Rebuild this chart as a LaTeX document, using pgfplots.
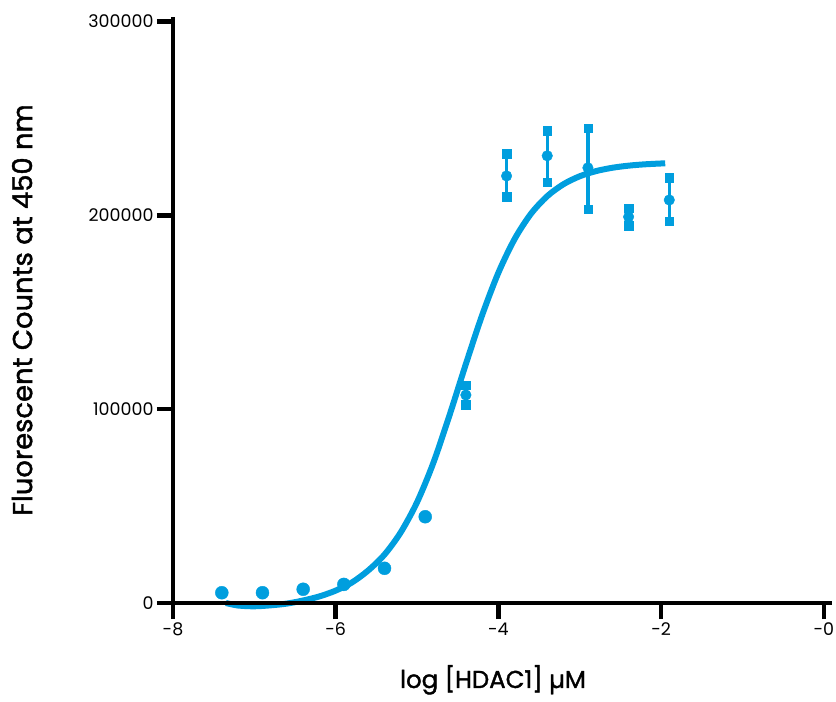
\documentclass[border=0pt]{standalone}
\usepackage{fontspec}
\setmainfont{Poppins}
\newfontfamily\labelfont{Poppins}[FakeBold=1.5]
\usepackage{pgfplots}
\pgfplotsset{compat=1.18}
\definecolor{hblue}{RGB}{0,158,222}

\pgfplotstableread{
x     y
-7.4  5300
-6.9  5300
-6.4  7100
-5.9  9600
-5.4  17900
-4.9  44500
}\lowpts

\pgfplotstableread{
x     y       ep     em
-4.4  107300  5200   5100
-3.9  220300  11400  10800
-3.4  230700  12900  13500
-2.9  224500  20500  21200
-2.4  199200  4600   4600
-1.9  207900  11400  10800
}\errpts

% fitted curve
\pgfplotstableread{
x      y
-7.35  0
-7.2   -1300
-7.0   -1700
-6.8   -1200
-6.6   -300
-6.4   1300
-6.2   3400
-6.0   6400
-5.8   10600
-5.6   16800
-5.4   25000
-5.2   36500
-5.0   52000
-4.8   72290
-4.6   97010
-4.4   123290
-4.2   148510
-4.0   170420
-3.8   187840
-3.6   200790
-3.4   209870
-3.2   216050
-3.0   220150
-2.8   222800
-2.6   224520
-2.4   225610
-2.2   226300
-1.95  226830
}\fitcurve

\begin{document}
\begin{tikzpicture}
\begin{axis}[
    scale only axis, width=659bp, height=586bp,
    xmin=-8, xmax=0.1, ymin=0, ymax=302300,
    axis lines*=left, axis on top, clip=false,
    axis line style={line width=4.5bp},
    tick align=outside, major tick length=16bp,
    tick style={black, line width=4.5bp},
    xtick={-8,-6,-4,-2,0}, xticklabels={-8,-6,-4,-2,-0},
    ytick={0,100000,200000,300000},
    yticklabels={0,100000,200000,300000},
    scaled y ticks=false,
    ticklabel style={font=\fontsize{17.5}{20}\selectfont},
    xlabel={log [HDAC1] µM},
    ylabel={Fluorescent Counts at 450 nm},
    every axis x label/.style={at={(axis description cs:0.4856,-0.145)}, anchor=base,
      font=\labelfont\fontsize{24.5}{30}\selectfont},
    every axis y label/.style={at={(axis description cs:-0.229,0.5)}, anchor=center, rotate=90,
      font=\labelfont\fontsize{27.5}{32}\selectfont},
  ]
  \addplot[hblue, line width=6bp, smooth] table[x=x, y=y] {\fitcurve};
  \addplot[hblue, only marks, mark=*, mark size=6.5bp] table[x=x, y=y] {\lowpts};
  \addplot[hblue, only marks, mark=*, mark size=5.3bp,
    error bars/.cd, y dir=both, y explicit,
    error bar style={line width=3.3bp},
    error mark=square*, error mark options={mark size=4.2bp, hblue}]
    table[x=x, y=y, y error plus=ep, y error minus=em] {\errpts};
\end{axis}
\pgfresetboundingbox
\path (current axis.south west) ++(-173bp,-99bp) rectangle ++(836bp,702bp);
\end{tikzpicture}
\end{document}
